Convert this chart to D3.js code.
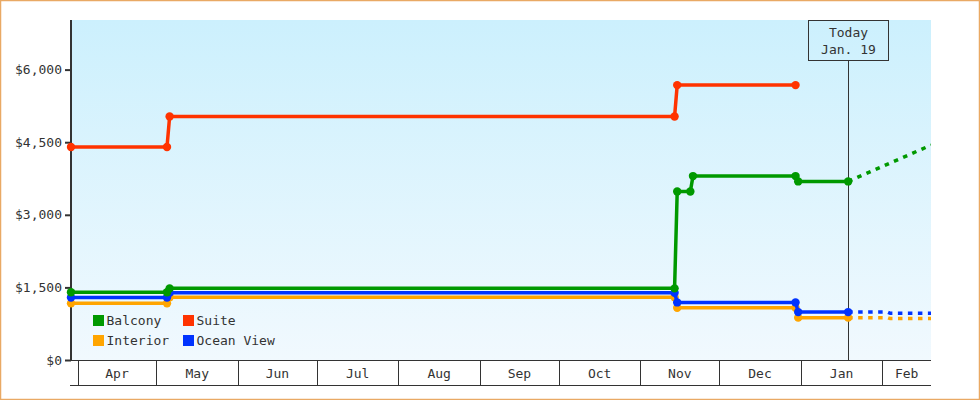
<!DOCTYPE html>
<html>
<head>
<meta charset="utf-8">
<script src="https://cdn.jsdelivr.net/npm/d3@7"></script>
<style>
  html, body { margin: 0; padding: 0; background: #fff; }
  svg { display: block; }
  text { font-family: "DejaVu Sans Mono", monospace; font-size: 13px; fill: #333; }
</style>
</head>
<body>
<svg id="chart" width="980" height="400"></svg>
<script>
// ---------- data ----------
const domainDates = ["2012-03-29 12:00", "2013-02-19 12:00"];
const todayDate = "2013-01-19";
const todayLabel = ["Today", "Jan. 19"];
const monthLabels = ["Apr", "May", "Jun", "Jul", "Aug", "Sep", "Oct", "Nov", "Dec", "Jan", "Feb"];
const yTicks = [0, 1500, 3000, 4500, 6000];
const yMax = 7025;

const seriesNames = ["Balcony", "Suite", "Interior", "Ocean View"];
const seriesColors = ["#009900", "#ff3300", "#ffa500", "#0033ff"];

const suiteDates = ["2012-03-29 12:00", "2012-05-05", "2012-05-06", "2012-11-14", "2012-11-15", "2012-12-30"];
const suitePrices = [4400, 4400, 5030, 5030, 5680, 5680];

const balconyDates = ["2012-03-29 12:00", "2012-05-05", "2012-05-06", "2012-11-14", "2012-11-15", "2012-11-20", "2012-11-21", "2012-12-30", "2012-12-31", "2013-01-19"];
const balconyPrices = [1400, 1400, 1480, 1480, 3480, 3480, 3800, 3800, 3690, 3690];

const oceanDates = ["2012-03-29 12:00", "2012-05-05", "2012-05-06", "2012-11-14", "2012-11-15", "2012-12-30", "2012-12-31", "2013-01-19"];
const oceanPrices = [1290, 1290, 1390, 1390, 1190, 1190, 990, 990];

const interiorDates = ["2012-03-29 12:00", "2012-05-05", "2012-05-06", "2012-11-14", "2012-11-15", "2012-12-30", "2012-12-31", "2013-01-19"];
const interiorPrices = [1170, 1170, 1295, 1295, 1080, 1080, 875, 875];

// projections (dashed)
const balconyProjDates = ["2013-01-19", "2013-02-19 12:00"];
const balconyProjPrices = [3690, 4440];
const oceanProjDates = ["2013-01-19", "2013-02-03", "2013-02-04", "2013-02-19 12:00"];
const oceanProjPrices = [990, 990, 965, 965];
const interiorProjDates = ["2013-01-19", "2013-02-03", "2013-02-04", "2013-02-19 12:00"];
const interiorProjPrices = [875, 875, 855, 855];

// ---------- helpers ----------
const pDay = d3.utcParse("%Y-%m-%d");
const pTime = d3.utcParse("%Y-%m-%d %H:%M");
const parse = s => (s.length > 10 ? pTime(s) : pDay(s));
const zip = (ds, vs) => ds.map((d, i) => ({ date: parse(d), value: vs[i] }));

const svg = d3.select("#chart");
const pLeft = 71, pRight = 931, pTop = 20, pBottom = 360, axisBottom = 385;

const x = d3.scaleUtc().domain(domainDates.map(parse)).range([pLeft, pRight]);
const y = d3.scaleLinear().domain([0, yMax]).range([pBottom, pTop]);

// outer border
svg.append("rect").attr("x", 0.5).attr("y", 0.5).attr("width", 979).attr("height", 399)
  .attr("fill", "#fff").attr("stroke", "#e9a964").attr("stroke-width", 1.5);

// gradient background
const defs = svg.append("defs");
const grad = defs.append("linearGradient").attr("id", "bg").attr("x1", 0).attr("y1", 0).attr("x2", 0).attr("y2", 1);
grad.append("stop").attr("offset", "0%").attr("stop-color", "#ccf0fd");
grad.append("stop").attr("offset", "100%").attr("stop-color", "#f1f9fe");
svg.append("rect").attr("x", pLeft).attr("y", pTop).attr("width", pRight - pLeft).attr("height", pBottom - pTop)
  .attr("fill", "url(#bg)");

// clip for series
defs.append("clipPath").attr("id", "plotclip").append("rect")
  .attr("x", pLeft - 6).attr("y", pTop).attr("width", pRight - pLeft + 6).attr("height", pBottom - pTop);

// today line + box
const tx = Math.round(x(parse(todayDate))) + 0.5;
svg.append("line").attr("x1", tx).attr("x2", tx).attr("y1", 60.5).attr("y2", pBottom)
  .attr("stroke", "#333").attr("stroke-width", 1);
svg.append("rect").attr("x", tx - 40).attr("y", 20.5).attr("width", 80).attr("height", 40)
  .attr("fill", "none").attr("stroke", "#333").attr("stroke-width", 1);
svg.append("text").attr("x", tx).attr("y", 36.5).attr("text-anchor", "middle").text(todayLabel[0]);
svg.append("text").attr("x", tx).attr("y", 54).attr("text-anchor", "middle").text(todayLabel[1]);

// month band axis
const months = d3.utcMonth.range(d3.utcMonth.ceil(x.domain()[0]), x.domain()[1]);
const bandG = svg.append("g");
bandG.append("line").attr("x1", pLeft).attr("x2", pRight).attr("y1", pBottom + 0.5).attr("y2", pBottom + 0.5)
  .attr("stroke", "#333");
bandG.append("line").attr("x1", pLeft - 1).attr("x2", pRight).attr("y1", axisBottom + 0.5).attr("y2", axisBottom + 0.5)
  .attr("stroke", "#333");
months.forEach((m, i) => {
  const mx = Math.round(x(m)) + 0.5;
  bandG.append("line").attr("x1", mx).attr("x2", mx).attr("y1", pBottom).attr("y2", axisBottom)
    .attr("stroke", "#333");
  const next = i + 1 < months.length ? x(months[i + 1]) : pRight;
  bandG.append("text").attr("x", (x(m) + next) / 2).attr("y", 378).attr("text-anchor", "middle")
    .text(monthLabels[i]);
});

// y axis
const yAxis = d3.axisLeft(y).tickValues(yTicks).tickSize(6).tickPadding(3)
  .tickFormat(d => "$" + d3.format(",")(d));
const yg = svg.append("g").attr("transform", `translate(${pLeft},0)`).call(yAxis);
yg.select(".domain").remove();
yg.selectAll(".tick line").attr("stroke", "#333").attr("stroke-width", 2);
yg.selectAll(".tick text").attr("font-family", "DejaVu Sans Mono").attr("font-size", 13).attr("fill", "#333");
svg.append("line").attr("x1", pLeft).attr("x2", pLeft).attr("y1", pTop).attr("y2", pBottom + 1)
  .attr("stroke", "#333").attr("stroke-width", 2);

// series
const line = d3.line().x(d => x(d.date)).y(d => y(d.value));
const plot = svg.append("g").attr("clip-path", "url(#plotclip)");

const series = [
  { name: "Interior", color: seriesColors[2], data: zip(interiorDates, interiorPrices), proj: zip(interiorProjDates, interiorProjPrices) },
  { name: "Ocean View", color: seriesColors[3], data: zip(oceanDates, oceanPrices), proj: zip(oceanProjDates, oceanProjPrices) },
  { name: "Balcony", color: seriesColors[0], data: zip(balconyDates, balconyPrices), proj: zip(balconyProjDates, balconyProjPrices) },
  { name: "Suite", color: seriesColors[1], data: zip(suiteDates, suitePrices), proj: null }
];

series.forEach(s => {
  if (s.proj) {
    plot.append("path").attr("d", line(s.proj)).attr("fill", "none").attr("stroke", s.color)
      .attr("stroke-width", 3.5).attr("stroke-dasharray", "4.5,5.5");
  }
});
series.forEach(s => {
  plot.append("path").attr("d", line(s.data)).attr("fill", "none").attr("stroke", s.color)
    .attr("stroke-width", 3.5).attr("stroke-linejoin", "round");
  plot.selectAll(null).data(s.data).enter().append("circle")
    .attr("cx", d => x(d.date)).attr("cy", d => y(d.value)).attr("r", 4.2).attr("fill", s.color);
});

// legend
const legendPos = [[93, 315], [183, 315], [93, 335], [183, 335]];
seriesNames.forEach((n, i) => {
  const [lx, ly] = legendPos[i];
  svg.append("rect").attr("x", lx).attr("y", ly).attr("width", 11).attr("height", 11).attr("fill", seriesColors[i]);
  svg.append("text").attr("x", lx + 13.5).attr("y", ly + 10).text(n);
});
</script>
</body>
</html>
